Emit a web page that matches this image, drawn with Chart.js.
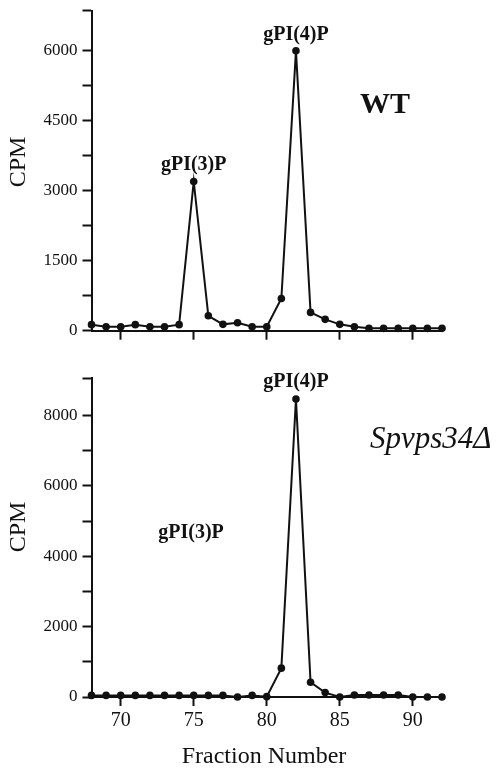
<!DOCTYPE html>
<html>
<head>
<meta charset="utf-8">
<script src="https://cdn.jsdelivr.net/npm/chart.js@4.4.1/dist/chart.umd.min.js"></script>
<style>
  html, body { margin: 0; padding: 0; background: #fff; }
  #wrap { position: relative; width: 496px; height: 772px; }
  canvas { position: absolute; left: 0; }
</style>
</head>
<body>
<div id="wrap">
  <canvas id="wtChart" width="496" height="350" style="top:0"></canvas>
  <canvas id="mutChart" width="496" height="422" style="top:350px"></canvas>
</div>
<script>
// fraction numbers, 68 .. 92
const fractions = [68, 69, 70, 71, 72, 73, 74, 75, 76, 77, 78, 79, 80, 81, 82, 83, 84, 85, 86, 87, 88, 89, 90, 91, 92];
const wtCpm = [130, 85, 85, 130, 85, 85, 130, 3200, 320, 136, 170, 85, 85, 690, 6000, 392, 243, 136, 85, 50, 50, 50, 50, 50, 50];
const mutCpm = [45, 45, 45, 45, 45, 45, 45, 45, 45, 45, 0, 45, 10, 820, 8470, 420, 125, 0, 55, 55, 55, 55, 0, 0, 0];

const xTicks = [70, 75, 80, 85, 90];
const wtYTicks = [0, 750, 1500, 2250, 3000, 3750, 4500, 5250, 6000];
const wtYLabels = [0, 1500, 3000, 4500, 6000];
const wtYMax = 6860;
const mutYTicks = [0, 1000, 2000, 3000, 4000, 5000, 6000, 7000, 8000];
const mutYLabels = [0, 2000, 4000, 6000, 8000];
const mutYMax = 9060;

const SERIF = '"Liberation Serif", "Times New Roman", serif';
const INK = '#111';

const panelText = {
  id: 'panelText',
  afterDraw(chart, args, opts) {
    const { ctx } = chart;
    const xs = chart.scales.x, ys = chart.scales.y;
    ctx.save();
    ctx.fillStyle = INK;
    ctx.textBaseline = 'middle';
    (opts.notes || []).forEach(n => {
      ctx.font = n.font;
      ctx.textAlign = n.align || 'center';
      const px = n.fx != null ? xs.getPixelForValue(n.fx) : n.px;
      const py = n.fy != null ? ys.getPixelForValue(n.fy) + n.dy : n.py;
      ctx.fillText(n.text, px, py);
    });
    ctx.save();
    ctx.translate(opts.cpmX, opts.cpmY);
    ctx.rotate(-Math.PI / 2);
    ctx.font = `24px ${SERIF}`;
    ctx.textAlign = 'center';
    ctx.fillText('CPM', 0, 0);
    ctx.restore();
    if (opts.xTitle) {
      ctx.font = `24px ${SERIF}`;
      ctx.textAlign = 'center';
      ctx.fillText(opts.xTitle.text, opts.xTitle.px, opts.xTitle.py);
    }
    ctx.restore();
  }
};

function makePanel(id, values, yTicks, yLabels, yMax, opt) {
  const points = fractions.map((f, i) => ({ x: f, y: values[i] }));
  return new Chart(document.getElementById(id), {
    type: 'line',
    data: {
      datasets: [{
        data: points,
        borderColor: INK,
        backgroundColor: INK,
        borderWidth: 2,
        pointRadius: 3.8,
        pointHoverRadius: 3.8,
        pointBackgroundColor: INK,
        pointBorderWidth: 0,
        tension: 0,
        clip: false
      }]
    },
    options: {
      responsive: false,
      animation: false,
      devicePixelRatio: 1,
      layout: { padding: { left: 0, top: opt.padTop, right: 54, bottom: 0 } },
      plugins: {
        legend: { display: false },
        tooltip: { enabled: false },
        panelText: { notes: opt.notes, cpmX: 18.5, cpmY: opt.cpmY, xTitle: opt.xTitle }
      },
      scales: {
        x: {
          type: 'linear',
          min: 68,
          max: 92,
          afterBuildTicks(scale) { scale.ticks = xTicks.map(v => ({ value: v })); },
          afterFit(scale) { scale.height = opt.xHeight; scale.paddingLeft = 0; scale.paddingRight = 0; },
          border: { display: true, color: INK, width: 2 },
          grid: { drawOnChartArea: false, drawTicks: true, tickLength: 9, tickColor: INK, tickWidth: 2 },
          ticks: {
            display: opt.showXLabels,
            autoSkip: false,
            maxRotation: 0,
            padding: 3,
            color: INK,
            font: { family: SERIF, size: 20 }
          }
        },
        y: {
          min: 0,
          max: yMax,
          afterBuildTicks(scale) { scale.ticks = yTicks.concat([yMax]).map(v => ({ value: v })); },
          afterFit(scale) { scale.width = 91.5; scale.paddingTop = 0; scale.paddingBottom = 0; },
          border: { display: true, color: INK, width: 2 },
          grid: { drawOnChartArea: false, drawTicks: true, tickLength: 9, tickColor: INK, tickWidth: 2 },
          ticks: {
            autoSkip: false,
            padding: 5,
            color: INK,
            font: { family: SERIF, size: 17 },
            callback: v => (yLabels.includes(v) ? String(v) : '')
          }
        }
      }
    },
    plugins: [panelText]
  });
}

makePanel('wtChart', wtCpm, wtYTicks, wtYLabels, wtYMax, {
  padTop: 10.7,
  xHeight: 19.3,
  showXLabels: false,
  cpmY: 162,
  notes: [
    { text: 'gPI(3)P', font: `bold 20px ${SERIF}`, fx: 75, fy: 3200, dy: -17 },
    { text: 'gPI(4)P', font: `bold 20px ${SERIF}`, fx: 82, fy: 6000, dy: -16 },
    { text: 'WT', font: `bold 30px ${SERIF}`, px: 385, py: 105 }
  ]
});

makePanel('mutChart', mutCpm, mutYTicks, mutYLabels, mutYMax, {
  padTop: 28.3,
  xHeight: 75,
  showXLabels: true,
  cpmY: 177,
  notes: [
    { text: 'gPI(4)P', font: `bold 20px ${SERIF}`, fx: 82, fy: 8470, dy: -17 },
    { text: 'gPI(3)P', font: `bold 20px ${SERIF}`, px: 191, py: 183 },
    { text: 'Spvps34\u0394', font: `italic 31px ${SERIF}`, px: 370, py: 90, align: 'left' }
  ],
  xTitle: { text: 'Fraction Number', px: 264, py: 407 }
});
</script>
</body>
</html>
